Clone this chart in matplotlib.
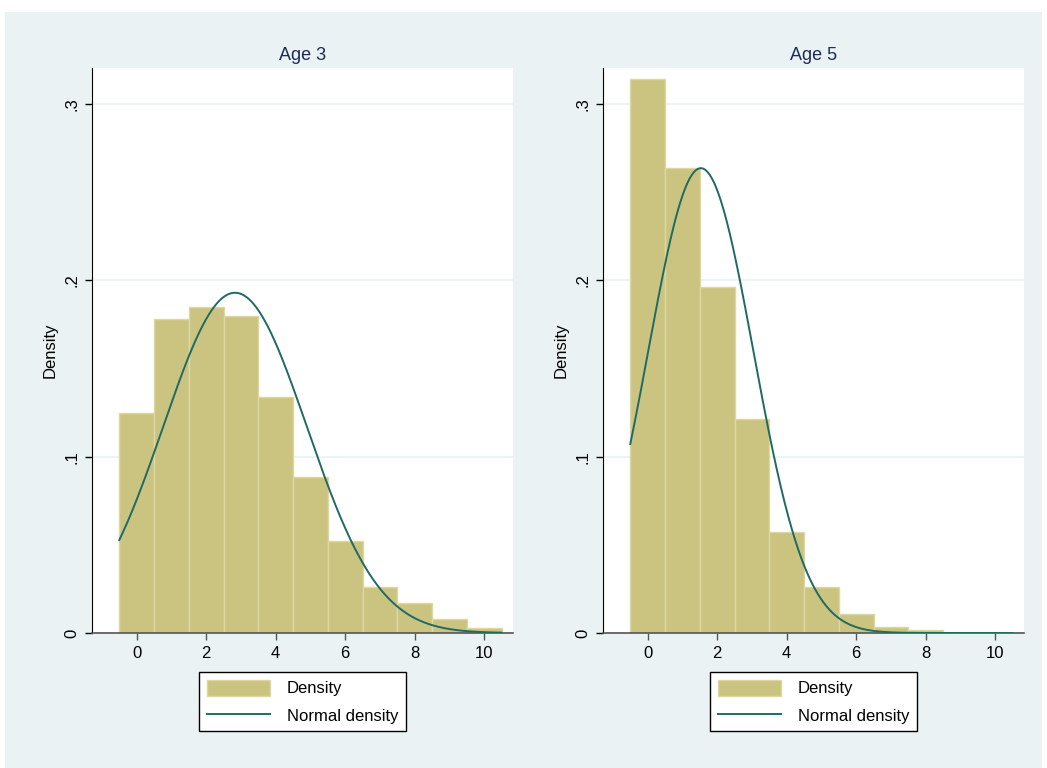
import numpy as np
import matplotlib.pyplot as plt
from matplotlib.patches import Patch, Rectangle
from matplotlib.lines import Line2D

plt.rcParams['font.family'] = ['Liberation Sans', 'DejaVu Sans']

# histogram bins (width 1, centred on integers) and densities
bins = list(range(0, 11))
age3_density = [0.1246, 0.178, 0.1847, 0.180, 0.1337, 0.0883, 0.052, 0.0263, 0.0168, 0.0078, 0.0027]
age5_density = [0.314, 0.2636, 0.1964, 0.1212, 0.0573, 0.0263, 0.0106, 0.0036, 0.0015, 0.0, 0.0]

# fitted normal parameters (mean, sd)
age3_mean, age3_sd = 2.83, 2.067
age5_mean, age5_sd = 1.53, 1.513

panel_titles = ['Age 3', 'Age 5']
ytick_vals = [0, 0.1, 0.2, 0.3]
ytick_labels = ['0', '.1', '.2', '.3']
xtick_vals = [0, 2, 4, 6, 8, 10]

bar_color = '#CBC480'
bar_edge = '#DDD8A2'
line_color = '#1F6B63'
bg_color = '#EAF2F3'

W, H = 1047, 768
fig = plt.figure(figsize=(W / 100, H / 100), dpi=100)
fig.patch.set_facecolor('white')
fig.patches.append(Rectangle((5 / W, 0), 1037 / W, (H - 12) / H,
                             transform=fig.transFigure, facecolor=bg_color,
                             edgecolor='none', zorder=-10))


def px_axes(x0, y0, x1, y1):
    return fig.add_axes([x0 / W, 1 - y1 / H, (x1 - x0) / W, (y1 - y0) / H])


panels = [
    (92, age3_density, age3_mean, age3_sd),
    (603, age5_density, age5_mean, age5_sd),
]

for (x0, dens, mu, sd), title in zip(panels, panel_titles):
    ax = px_axes(x0, 68, x0 + 421, 633)
    ax.set_facecolor('white')
    ax.bar(bins, dens, width=1, color=bar_color, edgecolor=bar_edge,
           linewidth=1, zorder=2)
    xs = np.linspace(-0.5, 10.5, 400)
    pdf = np.exp(-(xs - mu) ** 2 / (2 * sd ** 2)) / (sd * np.sqrt(2 * np.pi))
    ax.plot(xs, pdf, color=line_color, linewidth=1.4, zorder=3)

    ax.set_xlim(-1.285, 10.83)
    ax.set_ylim(0, 0.3205)
    ax.set_xticks(xtick_vals)
    ax.set_yticks(ytick_vals)
    ax.set_yticklabels(ytick_labels, rotation=90, va='center')
    ax.tick_params(axis='both', labelsize=12, length=5, width=1, colors='black')
    ax.tick_params(axis='y', pad=4)
    ax.tick_params(axis='x', pad=4, color='#555555')
    ax.grid(axis='y', color=bg_color, linewidth=1.2, zorder=0)
    ax.set_axisbelow(True)
    for s in ['top', 'right']:
        ax.spines[s].set_visible(False)
    ax.spines['left'].set_color('black')
    ax.spines['bottom'].set_color('#555555')
    ax.spines['bottom'].set_linewidth(1.2)
    ax.set_ylabel('Density', fontsize=12, labelpad=5)
    ax.set_title(title, fontsize=13, color='#1E2B55', pad=6)

    handles = [Patch(facecolor=bar_color, edgecolor=bar_edge, linewidth=1),
               Line2D([], [], color=line_color, linewidth=1.4)]
    cx = (x0 + 210.5) / W
    leg = ax.legend(handles, ['Density', 'Normal density'], loc='upper center',
                    bbox_to_anchor=(cx, 1 - 672 / H), bbox_transform=fig.transFigure,
                    fontsize=12, frameon=True, fancybox=False, edgecolor='black',
                    facecolor='white', framealpha=1, handlelength=3.8,
                    handleheight=1.1, handletextpad=1.0, labelspacing=0.65,
                    borderpad=0.45, borderaxespad=0)
    leg.get_frame().set_linewidth(1)

fig.savefig('out.png', dpi=100)
